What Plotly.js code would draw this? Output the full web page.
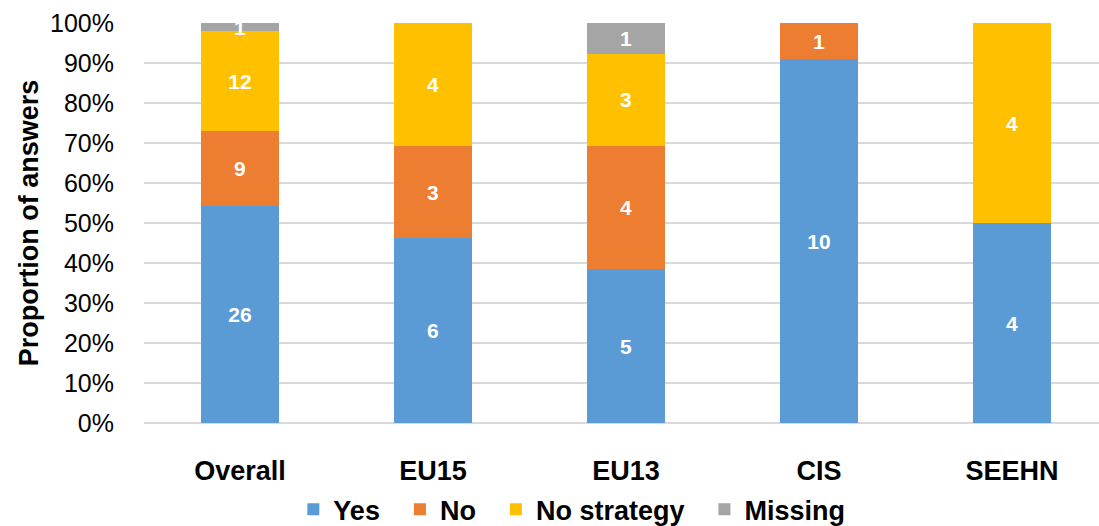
<!DOCTYPE html>
<html>
<head>
<meta charset="utf-8">
<script src="https://cdn.plot.ly/plotly-3.0.1.min.js"></script>
<style>html,body{margin:0;padding:0;background:#fff;}#chart{width:1099px;height:526px;}</style>
</head>
<body>
<div id="chart"></div>
<script>
const categories = ["Overall", "EU15", "EU13", "CIS", "SEEHN"];
const seriesNames = ["Yes", "No", "No strategy", "Missing"];
const yesValues = [26, 6, 5, 10, 4];
const noValues = [9, 3, 4, 1, 0];
const noStrategyValues = [12, 4, 3, 0, 4];
const missingValues = [1, 0, 1, 0, 0];
const yTickValues = [0, 10, 20, 30, 40, 50, 60, 70, 80, 90, 100];
const yTickLabels = ["0%", "10%", "20%", "30%", "40%", "50%", "60%", "70%", "80%", "90%", "100%"];

const FONT = "'Liberation Sans', Arial, sans-serif";
function mk(name, vals, color) {
  return {
    type: "bar", name: name, x: categories, y: vals,
    marker: {color: color, line: {width: 0}},
    text: vals.map(v => v === 0 ? "" : String(v)),
    textposition: "inside", insidetextanchor: "middle", textangle: 0,
    constraintext: "none",
    textfont: {family: FONT, size: 21, color: "#ffffff", weight: "bold"},
    hoverinfo: "skip", cliponaxis: false
  };
}
const NB = "\u00a0";
const data = [
  mk(seriesNames[0] + NB + NB, yesValues, "#5B9BD5"),
  mk(seriesNames[1] + NB + NB, noValues, "#ED7D31"),
  mk(seriesNames[2] + NB + NB, noStrategyValues, "#FFC000"),
  mk(seriesNames[3], missingValues, "#A5A5A5")
];
const layout = {
  width: 1099, height: 526,
  margin: {l: 144, r: 0, t: 23, b: 103, autoexpand: false},
  barmode: "stack", barnorm: "percent", bargap: 0.596,
  paper_bgcolor: "#ffffff", plot_bgcolor: "#ffffff",
  font: {family: FONT, color: "#000000"},
  showlegend: true,
  legend: {orientation: "h", xref: "paper", x: 0.448, xanchor: "center", yref: "container", y: 0.031, yanchor: "middle",
    font: {family: FONT, size: 27, color: "#000", weight: "bold"}, traceorder: "normal", itemclick: false},
  xaxis: {
    type: "category", range: [-0.497, 4.451], showgrid: false, zeroline: false, showline: false,
    ticks: "outside", ticklen: 24, tickcolor: "rgba(0,0,0,0)", automargin: false,
    tickfont: {family: FONT, size: 27, color: "#000", weight: "bold"}
  },
  yaxis: {
    range: [0, 100.001], tickvals: yTickValues, ticktext: yTickLabels,
    showgrid: true, gridcolor: "#D9D9D9", gridwidth: 1.6,
    zeroline: true, zerolinecolor: "#D9D9D9", zerolinewidth: 1.6, showline: false,
    ticks: "outside", ticklen: 24, tickcolor: "rgba(0,0,0,0)", automargin: false,
    tickfont: {family: FONT, size: 25, color: "#000"},
    title: {text: "Proportion of answers", standoff: 3, font: {family: FONT, size: 27, color: "#000", weight: "bold"}}
  }
};
Plotly.newPlot("chart", data, layout, {displayModeBar: false, staticPlot: true});
</script>
</body>
</html>
